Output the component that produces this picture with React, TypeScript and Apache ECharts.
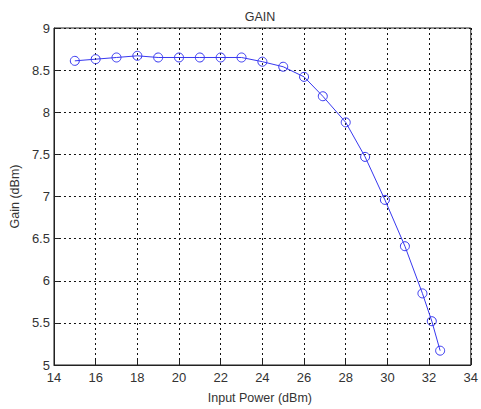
import React, { useEffect, useRef } from "react";
import * as echarts from "echarts";

const inputPower = [15, 16, 17, 18, 19, 20, 21, 22, 23, 24, 25, 26, 26.9, 28, 28.93, 29.88, 30.84, 31.68, 32.13, 32.53];
const gain = [8.61, 8.63, 8.65, 8.67, 8.65, 8.65, 8.65, 8.65, 8.65, 8.6, 8.54, 8.42, 8.19, 7.88, 7.47, 6.96, 6.41, 5.85, 5.52, 5.17];
const titleText = "GAIN";
const xName = "Input Power (dBm)";
const yName = "Gain (dBm)";

export default function App() {
  const ref = useRef<HTMLDivElement>(null);
  useEffect(() => {
    const chart = echarts.init(ref.current!, null, { renderer: "svg" });
    const font = "Liberation Sans, Arial, sans-serif";
    chart.setOption({
      animation: false,
      backgroundColor: "#ffffff",
      title: {
        text: titleText,
        left: 255,
        top: 5,
        textAlign: "center",
        textStyle: { fontSize: 12.5, fontWeight: "normal", color: "#333", fontFamily: font },
      },
      grid: {
        left: 41,
        right: 9,
        top: 28,
        bottom: 41,
        show: true,
        borderColor: "#222",
        borderWidth: 1,
        backgroundColor: "#fff",
      },
      xAxis: {
        type: "value",
        min: 14,
        max: 34,
        interval: 2,
        name: xName,
        nameLocation: "middle",
        nameGap: 26,
        nameTextStyle: { fontSize: 12.5, color: "#333", fontFamily: font, padding: [0, 5, 0, 0] },
        axisLine: { show: true, lineStyle: { color: "#222" } },
        axisTick: { show: true, inside: true, length: 5, lineStyle: { color: "#222" } },
        axisLabel: { fontSize: 13, color: "#333", fontFamily: font, margin: 6 },
        splitLine: { show: true, lineStyle: { color: "#111", type: [2, 3], width: 1 } },
      },
      yAxis: {
        type: "value",
        min: 5,
        max: 9,
        interval: 0.5,
        name: yName,
        nameLocation: "middle",
        nameGap: 27,
        nameTextStyle: { fontSize: 12.5, color: "#333", fontFamily: font, align: "center", verticalAlign: "bottom" },
        axisLine: { show: true, lineStyle: { color: "#222" } },
        axisTick: { show: true, inside: true, length: 5, lineStyle: { color: "#222" } },
        axisLabel: { fontSize: 13, color: "#333", fontFamily: font, margin: 4 },
        splitLine: { show: true, lineStyle: { color: "#111", type: [2, 3], width: 1 } },
      },
      series: [
        {
          type: "line",
          data: inputPower.map((x, i) => [x, gain[i]]),
          symbol: "circle",
          symbolSize: 9,
          showAllSymbol: true,
          lineStyle: { color: "#3838f0", width: 1 },
          itemStyle: { color: "rgba(0,0,0,0)", borderColor: "#3838f0", borderWidth: 1 },
        },
      ],
    });
    return () => chart.dispose();
  }, []);
  return <div ref={ref} style={{ width: 481, height: 409, position: "absolute", left: 0, top: 0 }} />;
}
